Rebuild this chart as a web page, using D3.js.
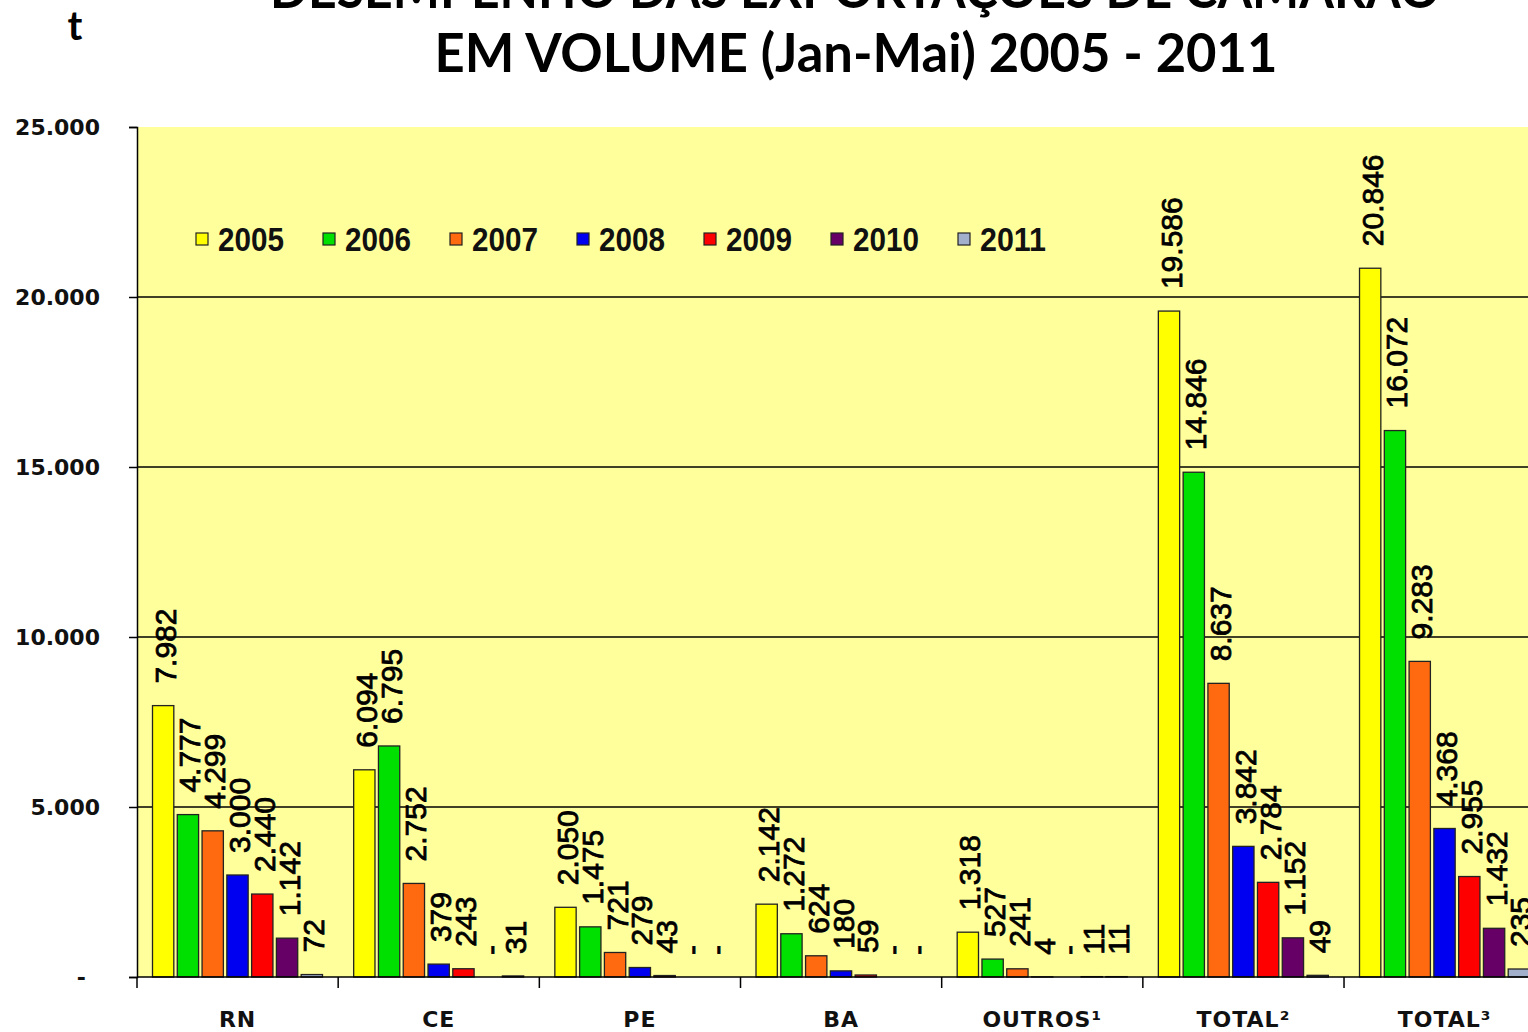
<!DOCTYPE html>
<html>
<head>
<meta charset="utf-8">
<script src="https://cdn.jsdelivr.net/npm/d3@7"></script>
<style>
  html, body { margin: 0; padding: 0; background: #fff; }
  svg { display: block; }
</style>
</head>
<body>
<svg id="chart" width="1528" height="1032"></svg>
<script>
// ---- data ----
const categories = ["RN", "CE", "PE", "BA", "OUTROS\u00b9", "TOTAL\u00b2", "TOTAL\u00b3"];
const years = ["2005", "2006", "2007", "2008", "2009", "2010", "2011"];
const v2005 = [7982, 6094, 2050, 2142, 1318, 19586, 20846];
const v2006 = [4777, 6795, 1475, 1272, 527, 14846, 16072];
const v2007 = [4299, 2752, 721, 624, 241, 8637, 9283];
const v2008 = [3000, 379, 279, 180, 4, 3842, 4368];
const v2009 = [2440, 243, 43, 59, 0, 2784, 2955];
const v2010 = [1142, 0, 0, 0, 11, 1152, 1432];
const v2011 = [72, 31, 0, 0, 11, 49, 235];
const yTicks = [0, 5000, 10000, 15000, 20000, 25000];
const yTickLabels = ["-", "5.000", "10.000", "15.000", "20.000", "25.000"];
const colors = ["#FFFF00", "#00E000", "#FF6A10", "#0000F0", "#FF0000", "#660066", "#A3B0CC"];
const titleLines = ["DESEMPENHO DAS EXPORTAÇÕES DE CAMARÃO", "EM VOLUME (Jan-Mai) 2005 - 2011"];
const unitLabel = "t";

const seriesValues = [v2005, v2006, v2007, v2008, v2009, v2010, v2011];

// ---- layout ----
const svg = d3.select("#chart");
const W = 1528, H = 1032;
const plotLeft = 137, plotTop = 127, plotBottom = 977, groupW = 201.17;

const x0 = d3.scaleBand().domain(categories)
  .range([plotLeft, plotLeft + groupW * categories.length]).padding(0);
const x1 = d3.scaleBand().domain(years).range([15.5, 185.5]).paddingInner(0.14).paddingOuter(0);
const y = d3.scaleLinear().domain([0, 25000]).range([plotBottom, plotTop]);

const fmt = d3.formatLocale({ decimal: ",", thousands: ".", grouping: [3], currency: ["", ""] }).format(",d");
const labelText = v => v === 0 ? "-" : fmt(v);

// plot background
svg.append("rect").attr("x", plotLeft).attr("y", plotTop)
  .attr("width", W - plotLeft).attr("height", plotBottom - plotTop)
  .attr("fill", "#FFFF9C");

// gridlines
svg.append("g").selectAll("line").data(yTicks.filter(t => t > 0 && t < 25000)).join("line")
  .attr("x1", plotLeft).attr("x2", W)
  .attr("y1", d => y(d)).attr("y2", d => y(d))
  .attr("stroke", "#000").attr("stroke-width", 1.5);

// y axis
const yAxis = svg.append("g").attr("transform", `translate(${plotLeft},0)`)
  .call(d3.axisLeft(y).tickValues(yTicks).tickSize(8).tickPadding(29)
    .tickFormat((d, i) => yTickLabels[i]));
yAxis.select(".domain").attr("stroke", "#000").attr("stroke-width", 1.5);
yAxis.selectAll(".tick line").attr("stroke", "#000").attr("stroke-width", 1.5);
yAxis.selectAll(".tick text")
  .attr("font-family", "DejaVu Sans").attr("font-weight", "bold").attr("font-size", 22)
  .attr("fill", "#111")
  .attr("dx", d => d === 0 ? -14 : 0);

// bars
const groups = svg.append("g").selectAll("g").data(categories).join("g")
  .attr("transform", d => `translate(${x0(d)},0)`);

groups.each(function (cat, ci) {
  const g = d3.select(this);
  const recs = years.map((yr, si) => ({ yr, si, v: seriesValues[si][ci] }));
  g.selectAll("rect").data(recs.filter(r => r.v > 0)).join("rect")
    .attr("x", r => x1(r.yr))
    .attr("width", x1.bandwidth())
    .attr("y", r => y(r.v))
    .attr("height", r => plotBottom - y(r.v))
    .attr("fill", r => colors[r.si])
    .attr("stroke", "#222").attr("stroke-width", 1.3);
  g.selectAll("text").data(recs).join("text")
    .attr("transform", r => `translate(${x1(r.yr) + x1.bandwidth() / 2 + 2},${y(r.v) - 22}) rotate(-90)`)
    .attr("dy", "0.35em")
    .attr("font-family", "Liberation Sans, Arial, sans-serif")
    .attr("font-size", 30)
    .attr("fill", "#000")
    .attr("stroke", "#000").attr("stroke-width", 0.8)
    .text(r => labelText(r.v));
});

// x axis line and ticks
svg.append("line").attr("x1", plotLeft).attr("x2", W)
  .attr("y1", plotBottom).attr("y2", plotBottom)
  .attr("stroke", "#000").attr("stroke-width", 1.5);
const bounds = categories.map(c => x0(c)).concat([x0.range()[1]]);
svg.append("g").selectAll("line").data(bounds).join("line")
  .attr("x1", d => d).attr("x2", d => d)
  .attr("y1", plotBottom).attr("y2", plotBottom + 11)
  .attr("stroke", "#000").attr("stroke-width", 1.5);
svg.append("g").selectAll("text").data(categories).join("text")
  .attr("x", d => x0(d) + x0.bandwidth() / 2)
  .attr("y", 1027)
  .attr("text-anchor", "middle")
  .attr("font-family", "DejaVu Sans").attr("font-weight", "bold").attr("font-size", 22)
  .attr("letter-spacing", 1)
  .attr("fill", "#111")
  .text(d => d);

// legend
const legend = svg.append("g").selectAll("g").data(years).join("g")
  .attr("transform", (d, i) => `translate(${196 + i * 127},233)`);
legend.append("rect").attr("width", 12).attr("height", 12)
  .attr("fill", (d, i) => colors[i]).attr("stroke", "#222").attr("stroke-width", 1.2);
legend.append("text").attr("x", 22).attr("y", 18)
  .attr("font-family", "Liberation Sans, Arial, sans-serif").attr("font-weight", "bold")
  .attr("font-size", 33).attr("textLength", 66).attr("lengthAdjust", "spacingAndGlyphs")
  .attr("fill", "#111")
  .text(d => d);

// title
svg.append("text").attr("x", 855).attr("y", 8).attr("text-anchor", "middle")
  .attr("font-family", "Lato, Open Sans, sans-serif").attr("font-weight", "bold").attr("font-size", 54)
  .attr("textLength", 1170).attr("lengthAdjust", "spacingAndGlyphs")
  .attr("fill", "#000").text(titleLines[0]);
svg.append("text").attr("x", 856).attr("y", 72).attr("text-anchor", "middle")
  .attr("font-family", "Lato, Open Sans, sans-serif").attr("font-weight", "bold").attr("font-size", 54)
  .attr("textLength", 843).attr("lengthAdjust", "spacingAndGlyphs")
  .attr("fill", "#000").text(titleLines[1]);
svg.append("text").attr("x", 75).attr("y", 40).attr("text-anchor", "middle")
  .attr("font-family", "Lato, Open Sans, sans-serif").attr("font-weight", "bold").attr("font-size", 40)
  .attr("fill", "#000").text(unitLabel);
</script>
</body>
</html>
